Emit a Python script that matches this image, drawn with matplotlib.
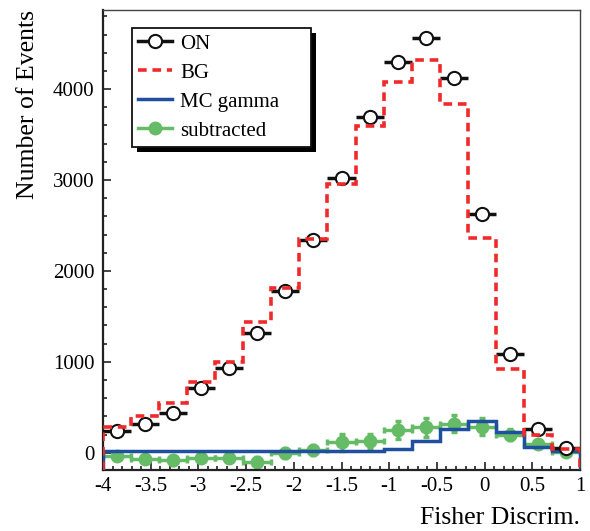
import numpy as np
import matplotlib
matplotlib.use("Agg")
import matplotlib.pyplot as plt
from matplotlib.lines import Line2D
from matplotlib.patches import Rectangle
from matplotlib.ticker import MultipleLocator, FormatStrFormatter

plt.rcParams['font.family'] = ['Liberation Serif', 'DejaVu Serif']
plt.rcParams['axes.unicode_minus'] = False

# binning of the Fisher discriminant histogram
nbins = 17
xmin, xmax = -4.0, 1.0

# counts
on_counts = [240, 320, 436, 714, 934, 1316, 1780, 2345, 3025, 3690,
             4300, 4565, 4125, 2625, 1090, 262, 50]
bg_counts = [288, 405, 546, 782, 1000, 1443, 1810, 2348, 2952, 3593,
             4080, 4319, 3831, 2359, 923, 190, 44]
mc_gamma = [20, 20, 20, 20, 20, 20, 20, 20, 20, 20,
            44, 125, 260, 345, 232, 62, 22]
subtracted = [-38, -66, -85, -58, -55, -106, -5, 30, 113, 130,
              250, 278, 320, 288, 200, 95, 5]
sub_err = [40, 40, 45, 45, 50, 55, 55, 60, 90, 80,
           100, 100, 90, 90, 60, 45, 35]

edges = np.linspace(xmin, xmax, nbins + 1)
centers = 0.5 * (edges[:-1] + edges[1:])
half_w = 0.5 * np.diff(edges)

ymin, ymax = -190, 4870

fig = plt.figure(figsize=(5.9, 5.31), dpi=100)
ax = fig.add_axes([103/590, 1 - 470/531, 477/590, 460/531])

green = '#66bb66'
blue = '#1f4f9f'
red = '#f02a2a'
dash = (0, (2.4, 1.6))

# subtracted
ax.errorbar(centers, subtracted, xerr=half_w, yerr=sub_err, fmt='o',
            color=green, ms=9, elinewidth=2.5, capsize=2, capthick=2.5, zorder=2)
# MC gamma
ax.stairs(mc_gamma, edges, baseline=ymin, color=blue, lw=2.5, zorder=3)
# ON
ax.errorbar(centers, on_counts, xerr=half_w, yerr=np.sqrt(on_counts), fmt='o',
            color='#111111', mfc='white', mec='#111111', mew=1.5, ms=9.5,
            elinewidth=2.5, capsize=0, zorder=4)
# BG
ax.stairs(bg_counts, edges, baseline=ymin, color=red, lw=2.6,
          linestyle=dash, zorder=5)

ax.set_xlim(xmin, xmax)
ax.set_ylim(ymin, ymax)

ax.xaxis.set_major_locator(MultipleLocator(0.5))
ax.xaxis.set_minor_locator(MultipleLocator(0.1))
ax.xaxis.set_major_formatter(FormatStrFormatter('%g'))
ax.yaxis.set_major_locator(MultipleLocator(1000))
ax.yaxis.set_minor_locator(MultipleLocator(200))
ax.yaxis.set_major_formatter(FormatStrFormatter('%g'))
ax.tick_params(which='both', direction='in', top=False, right=False,
               labelsize=15, width=1.2, color='#222222')
ax.tick_params(which='major', length=6)
ax.tick_params(which='minor', length=3)
ax.tick_params(axis='y', pad=6)
ax.tick_params(axis='x', pad=5)

for side in ['left', 'bottom']:
    ax.spines[side].set_linewidth(1.6)
    ax.spines[side].set_color('#222222')
for side in ['top', 'right']:
    ax.spines[side].set_linewidth(1.0)
    ax.spines[side].set_color('#444444')

ax.set_xlabel('Fisher Discrim.', fontsize=18.5, loc='right', labelpad=8)
ax.set_ylabel('Number of Events', fontsize=18.5, loc='top', labelpad=10)

handles = [
    Line2D([], [], color='#111111', lw=2.5, marker='o', mfc='white',
           mec='#111111', mew=1.5, ms=9.5),
    Line2D([], [], color=red, lw=2.6, linestyle=dash),
    Line2D([], [], color=blue, lw=2.5),
    Line2D([], [], color=green, lw=2.5, marker='o', ms=9),
]
labels = ['ON', 'BG', 'MC gamma', 'subtracted']
leg = ax.legend(handles, labels, loc='upper left', mode='expand',
                bbox_to_anchor=(0.0608, 0.711, 0.375, 0.25), borderaxespad=0,
                fontsize=15, frameon=True, fancybox=False,
                handlelength=1.6, handletextpad=0.4, labelspacing=0.45,
                borderpad=0.3)
leg.get_frame().set_edgecolor('#111111')
leg.get_frame().set_linewidth(1.3)
leg.get_frame().set_alpha(1.0)
leg.set_zorder(10)

# ROOT-like black drop shadow behind the legend box
fig.canvas.draw()
bb = leg.get_frame().get_window_extent().transformed(fig.transFigure.inverted())
shadow = Rectangle((bb.x0 + 5/590, bb.y0 - 5/531), bb.width, bb.height,
                   transform=fig.transFigure, facecolor='black',
                   edgecolor='none', zorder=9)
ax.add_artist(shadow)
shadow.set_clip_on(False)

fig.savefig('out.png', dpi=100)
